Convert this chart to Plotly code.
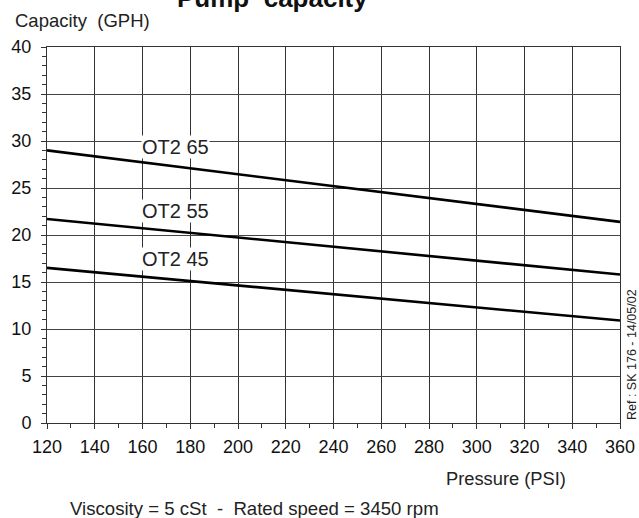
import plotly.graph_objects as go

pressure = [120, 360]
ot2_65 = [29.0, 21.4]
ot2_55 = [21.7, 15.8]
ot2_45 = [16.5, 10.9]
series_names = ["OT2 65", "OT2 55", "OT2 45"]
label_x = [159.5, 159.5, 159.5]
label_y = [29.4, 22.6, 17.4]

fig = go.Figure()
for name, vals in zip(series_names, [ot2_65, ot2_55, ot2_45]):
    fig.add_trace(go.Scatter(x=pressure, y=vals, mode="lines", name=name,
                             line=dict(color="black", width=2.6), showlegend=False))

for name, lx, ly in zip(series_names, label_x, label_y):
    fig.add_annotation(x=lx, y=ly, text=name, showarrow=False, xanchor="left",
                       bgcolor="white", font=dict(size=20, color="#222"),
                       borderpad=0)

font = "Liberation Sans, Arial, sans-serif"
fig.update_layout(
    width=639, height=518, autosize=False,
    margin=dict(l=47, r=19, t=47, b=95),
    paper_bgcolor="white", plot_bgcolor="white",
    font=dict(family=font, size=18, color="#111"),
    xaxis=dict(range=[120, 360], tickmode="linear", tick0=120, dtick=20,
               automargin=False, ticklabelstandoff=2,
               showgrid=True, gridcolor="#333", gridwidth=1,
               showline=True, linecolor="#333", linewidth=1, mirror=True,
               ticks="outside", ticklen=5, tickcolor="#333",
               minor=dict(dtick=10, ticks="outside", ticklen=4, tickcolor="#333", showgrid=False),
               zeroline=False, tickfont=dict(size=18)),
    yaxis=dict(range=[0, 40], tickmode="linear", tick0=0, dtick=5,
               automargin=False, ticklabelstandoff=6,
               showgrid=True, gridcolor="#444", gridwidth=1,
               showline=True, linecolor="#333", linewidth=1, mirror=True,
               ticks="outside", ticklen=5, tickcolor="#333",
               minor=dict(dtick=1, ticks="outside", ticklen=4, tickcolor="#333", showgrid=False),
               zeroline=False, tickfont=dict(size=18)),
)

fig.add_annotation(xref="paper", yref="paper", x=0, y=1, xshift=225, yshift=49,
                   text="<b>Pump  capacity</b>", showarrow=False,
                   font=dict(size=26, color="#111"), yanchor="middle", xanchor="center")
fig.add_annotation(xref="paper", yref="paper", x=0, y=1, xshift=-34, yshift=27,
                   text="Capacity  (GPH)", showarrow=False, xanchor="left", yanchor="middle",
                   font=dict(size=18.5, color="#222"))
fig.add_annotation(xref="paper", yref="paper", x=1, y=0, xshift=-52, yshift=-55,
                   text="Pressure (PSI)", showarrow=False, xanchor="right", yanchor="middle",
                   font=dict(size=18.3, color="#222"))
fig.add_annotation(xref="paper", yref="paper", x=0, y=0, xshift=21, yshift=-85,
                   text="Viscosity = 5 cSt  -  Rated speed = 3450 rpm", showarrow=False,
                   xanchor="left", yanchor="middle", font=dict(size=18.6, color="#222"))
fig.add_annotation(xref="paper", yref="paper", x=1, y=0, xshift=12, yshift=68,
                   text="Ref : SK 176 - 14/05/02", showarrow=False, textangle=-90,
                   xanchor="center", yanchor="middle", font=dict(size=12.5, color="#222"))

fig.write_html("out.html", config={"displayModeBar": False},
               post_script="document.body.style.margin='0';")
